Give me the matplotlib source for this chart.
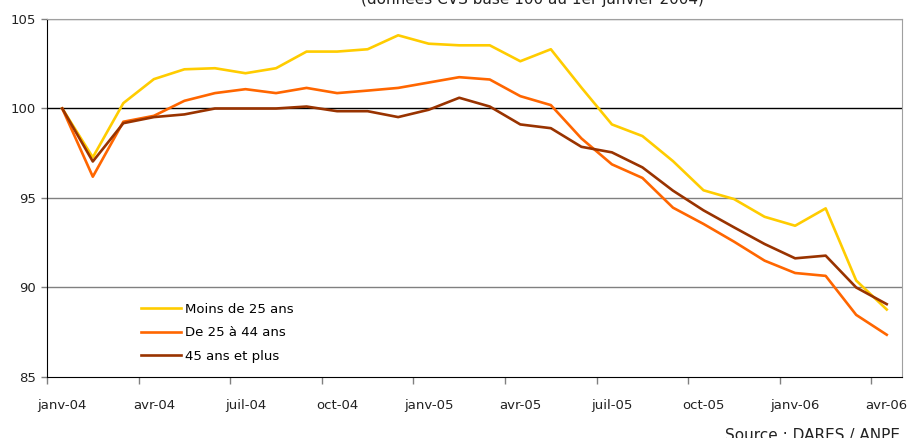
import matplotlib.pyplot as plt

months = ['janv-04', 'févr-04', 'mars-04', 'avr-04', 'mai-04', 'juin-04',
          'juil-04', 'août-04', 'sept-04', 'oct-04', 'nov-04', 'déc-04',
          'janv-05', 'févr-05', 'mars-05', 'avr-05', 'mai-05', 'juin-05',
          'juil-05', 'août-05', 'sept-05', 'oct-05', 'nov-05', 'déc-05',
          'janv-06', 'févr-06', 'mars-06', 'avr-06']

moins25 = [100, 97.27, 100.3, 101.64, 102.19, 102.25, 101.97, 102.25, 103.18,
           103.18, 103.31, 104.09, 103.62, 103.53, 103.53, 102.64, 103.31,
           101.17, 99.11, 98.46, 97.06, 95.43, 94.94, 93.95, 93.45, 94.42,
           90.39, 88.77]
de25a44 = [100, 96.19, 99.26, 99.59, 100.43, 100.86, 101.08, 100.86, 101.15,
           100.86, 101.0, 101.15, 101.45, 101.75, 101.62, 100.69, 100.19,
           98.33, 96.88, 96.12, 94.46, 93.55, 92.56, 91.5, 90.81, 90.65,
           88.47, 87.36]
plus45 = [100, 97.04, 99.18, 99.52, 99.67, 100, 100, 100, 100.11, 99.85,
          99.85, 99.52, 99.93, 100.6, 100.11, 99.11, 98.9, 97.86, 97.55,
          96.71, 95.41, 94.31, 93.36, 92.43, 91.63, 91.78, 90.0, 89.07]

series = [('Moins de 25 ans', moins25, '#FFCC00'),
          ('De 25 à 44 ans', de25a44, '#FF6600'),
          ('45 ans et plus', plus45, '#993300')]

fig = plt.figure(figsize=(9.11, 4.38), dpi=100)
ax = fig.add_axes([47 / 911, 1 - 377 / 438, 855 / 911, 358 / 438])

x = list(range(len(months)))
for name, vals, col in series:
    ax.plot(x, vals, color=col, lw=1.9, label=name, zorder=3)

ax.set_xlim(-0.5, len(months) - 0.5)
ax.set_ylim(85, 105)

# grid lines
for v in [90, 95, 105]:
    ax.axhline(v, color='#808080', lw=1, zorder=1)
ax.axhline(100, color='black', lw=1, zorder=1)

ax.set_yticks([85, 90, 95, 100, 105])
ax.tick_params(axis='y', length=4, width=1, colors='#808080', labelcolor='#222222',
               labelsize=9.5, pad=4)

# ticks between categories, labels on categories
ax.set_xticks([i - 0.5 for i in range(0, len(months), 3)])
ax.set_xticklabels([])
ax.tick_params(axis='x', which='major', length=5, width=1, colors='#808080')
ax.set_xticks(x[::3], minor=True)
ax.set_xticklabels(months[::3], minor=True)
ax.tick_params(axis='x', which='minor', length=0, pad=15.5, labelsize=9.5,
               labelcolor='#222222')

ax.spines['left'].set_color('black')
ax.spines['bottom'].set_color('black')
ax.spines['top'].set_color('#a0a0a0')
ax.spines['right'].set_color('#a0a0a0')

ax.legend(loc='upper left', bbox_to_anchor=(141 / 911, 1 - 303 / 438),
          bbox_transform=fig.transFigure, frameon=False, fontsize=9.5,
          handlelength=3.0, handletextpad=0.3, labelspacing=0.78,
          borderpad=0, borderaxespad=0)

fig.text(532 / 911, 1 - 4 / 438, '(données CVS base 100 au 1er janvier 2004)',
         ha='center', va='baseline', fontsize=11, color='#222222')
fig.text(900 / 911, 1 - 440 / 438, 'Source : DARES / ANPE',
         ha='right', va='baseline', fontsize=11, color='#222222')

fig.savefig('out.png', dpi=100)
